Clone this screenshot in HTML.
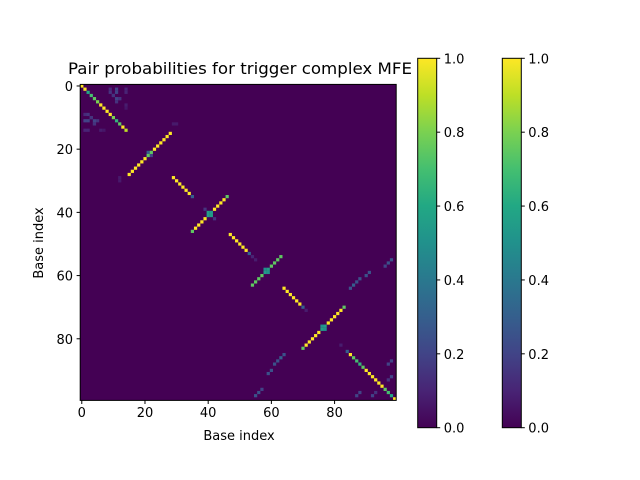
<!DOCTYPE html>
<html><head><meta charset="utf-8"><style>
body{margin:0;background:#fff}
svg{display:block;font-family:"DejaVu Sans","Liberation Sans",sans-serif}
</style></head><body>
<svg id="fig" width="640" height="480" viewBox="0 0 640 480">
<defs>
<linearGradient id="vir" x1="0" y1="1" x2="0" y2="0">
<stop offset="0" stop-color="#440154"/><stop offset="0.1" stop-color="#482475"/><stop offset="0.2" stop-color="#414487"/><stop offset="0.3" stop-color="#355f8d"/><stop offset="0.4" stop-color="#2a788e"/><stop offset="0.5" stop-color="#21918c"/><stop offset="0.6" stop-color="#22a884"/><stop offset="0.7" stop-color="#44bf70"/><stop offset="0.8" stop-color="#7ad151"/><stop offset="0.9" stop-color="#bddf26"/><stop offset="1" stop-color="#fde725"/>
</linearGradient>
</defs>
<text x="240" y="74" font-size="16" text-anchor="middle" textLength="344" lengthAdjust="spacingAndGlyphs">Pair probabilities for trigger complex MFE</text>
<g id="heat"></g>
<rect x="80.2" y="84.4" width="316" height="316" fill="none" stroke="#000" stroke-width="1"/>
<g id="ticks" font-size="13"></g>
<text x="239" y="440" font-size="13" text-anchor="middle">Base index</text>
<text x="0" y="0" font-size="13" text-anchor="middle" transform="translate(43,243) rotate(-90)">Base index</text>
<g id="cbars" font-size="13"></g>
</svg>
<script>
const N = 100;
const diagIdx = [0,1,2,3,4,5,6,7,8,9,10,11,12,13,14,21,22,29,30,31,32,33,34,35,39,40,41,42,47,48,49,50,51,52,53,54,55,58,59,64,65,66,67,68,69,70,71,76,77,82,84,85,86,87,88,89,90,91,92,93,94,95,96,97,98,99];
const diagP   = [1,1,0.6,0.7,0.75,0.8,1,1,1,1,0.8,0.65,0.75,1,0.9,0.3,0.2,1,1,1,1,1,1,0.3,0.15,0.55,0.55,0.15,1,1,1,1,1,1,0.3,0.1,0.08,0.5,0.5,1,1,1,1,1,1,0.3,0.08,0.5,0.5,0.08,0.3,1,0.75,0.7,0.65,0.75,1,1,1,1,1,1,0.75,0.7,0.6,1];
const pairI = [15,16,17,18,19,20,21, 35,36,37,38,39,40, 54,55,56,57,58, 70,71,72,73,74,75,76, 1,1,1,3,4,4,6,2,3,2,4,5,2,7, 12,12, 55,56,57, 59,60,61,62,63,64, 87,88,92,93];
const pairJ = [28,27,26,25,24,23,22, 46,45,44,43,42,41, 63,62,61,60,59, 83,82,81,80,79,78,77, 9,11,14,10,12,11,14,9,10,11,12,11,14,14, 29,30, 98,97,96, 91,90,88,87,86,85, 98,97,98,97];
const pairP = [1,1,1,1,1,1,0.75, 0.75,1,1,1,1,0.55, 0.75,0.75,0.75,0.75,0.55, 0.75,1,1,1,1,1,0.55, 0.12,0.2,0.1,0.2,0.15,0.2,0.08,0.15,0.15,0.2,0.15,0.15,0.1,0.06, 0.07,0.07, 0.25,0.25,0.2, 0.25,0.25,0.25,0.25,0.3,0.25, 0.2,0.2,0.2,0.15];
const xTicks = [0,20,40,60,80];
const cbTicks = [0,0.2,0.4,0.6,0.8,1.0];

const stops=[[68,1,84],[72,36,117],[65,68,135],[53,95,141],[42,120,142],[33,145,140],[34,168,132],[68,191,112],[122,209,81],[189,223,38],[253,231,37]];
function viridis(v){v=Math.max(0,Math.min(1,v));const f=v*10,i=Math.min(9,Math.floor(f)),t=f-i;const a=stops[i],b=stops[i+1];return `rgb(${a.map((c,k)=>Math.round(c+(b[k]-c)*t)).join(',')})`;}
const X0=80.2,Y0=84.4,S=316/N;
const sx=c=>X0+(c+0.5)*S, sy=r=>Y0+(r+0.5)*S;
const NS='http://www.w3.org/2000/svg';
function mk(tag,attrs,parent){const e=document.createElementNS(NS,tag);for(const k in attrs)e.setAttribute(k,attrs[k]);parent.appendChild(e);return e;}
const heat=document.getElementById('heat');
const bg=mk('rect',{x:X0,y:Y0,width:316,height:316,fill:viridis(0)},heat);


function cell(r,c,p){const e=mk('rect',{x:(sx(c)-S/2).toFixed(2),y:(sy(r)-S/2).toFixed(2),width:(S+0.05).toFixed(2),height:(S+0.05).toFixed(2),fill:viridis(p)},heat);

}
diagIdx.forEach((d,k)=>cell(d,d,diagP[k]));
pairI.forEach((i,k)=>{cell(i,pairJ[k],pairP[k]);cell(pairJ[k],i,pairP[k]);});
const tk=document.getElementById('ticks');
xTicks.forEach(v=>{
 mk('line',{x1:sx(v),x2:sx(v),y1:400.4,y2:404,stroke:'#000'},tk);
 const t=mk('text',{x:sx(v),y:417,'text-anchor':'middle'},tk);t.textContent=v;
 
 
 mk('line',{x1:76.6,x2:80.2,y1:sy(v),y2:sy(v),stroke:'#000'},tk);
 const u=mk('text',{x:73,y:sy(v)+5,'text-anchor':'end'},tk);u.textContent=v;
 
 
});
const cb=document.getElementById('cbars');
[417.7,502.3].forEach(x=>{
 const r=mk('rect',{x:x,y:58.3,width:19,height:369.4,fill:'url(#vir)',stroke:'#000','stroke-width':1},cb);
 
 
 cbTicks.forEach(v=>{const y=427.7-v*369.4;
  mk('line',{x1:x+19,x2:x+22.5,y1:y,y2:y,stroke:'#000'},cb);
  const t=mk('text',{x:x+26,y:y+5},cb);t.textContent=v.toFixed(1);
  
  
 });
});
</script>
</body></html>
